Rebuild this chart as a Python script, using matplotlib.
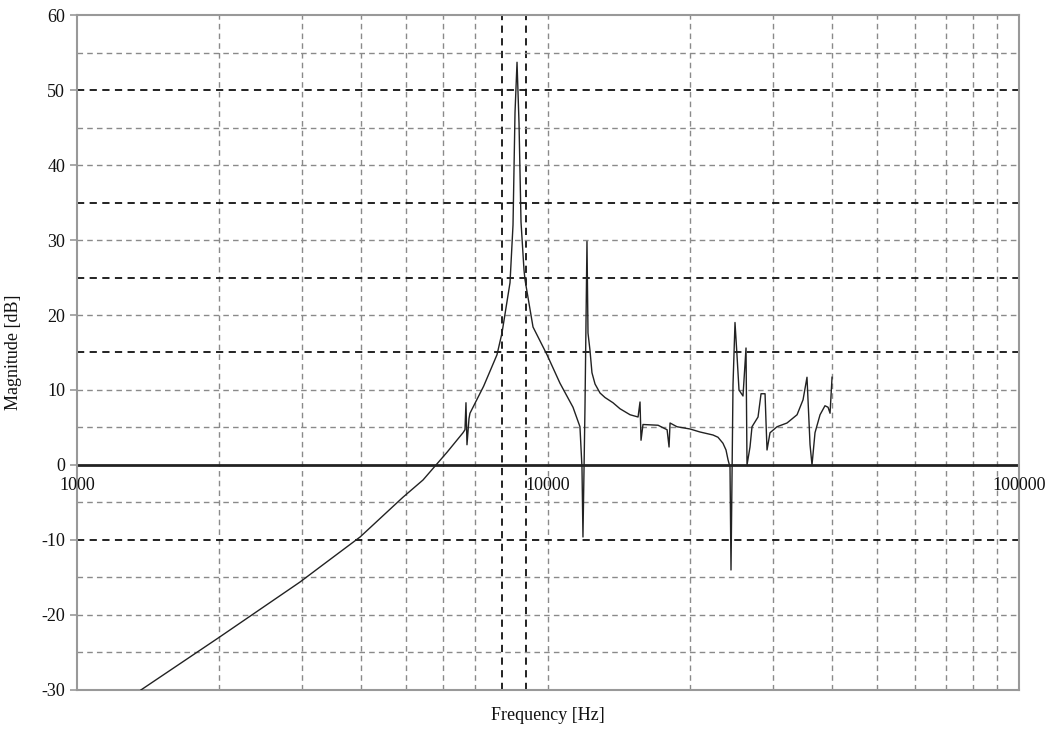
import matplotlib
matplotlib.use('Agg')
import matplotlib.pyplot as plt
import numpy as np

# Frequency response
freq = [1367, 2002, 2976, 3281, 3991, 4921, 5428, 6105, 6600, 6664, 6697, 6730,
        6797, 6829, 7300, 7793, 7986, 8305, 8428, 8511, 8595, 8679, 8764, 8893,
        8937, 9294, 9952, 10604, 11300, 11691, 11807, 11864, 11982, 12099, 12160,
        12278, 12398, 12585, 12896, 13213, 13740, 14218, 14935, 15531, 15681,
        15758, 15910, 17125, 17900, 18072, 18160, 18786, 20023, 21023, 22400,
        22955, 23520, 23874, 24110, 24346, 24464, 24705, 24947, 25193, 25440,
        25940, 26327, 26455, 26845, 27109, 27920, 28333, 28894, 29035, 29174,
        29605, 30637, 32169, 33790, 34793, 35470, 36002, 36349, 36886, 37808,
        38727, 39315, 39701, 40091]
mag = [-30, -23, -15.6, -13.6, -9.6, -4.3, -2.0, 1.7, 4.3, 4.7, 8.3, 2.7,
       6.2, 6.9, 10.5, 14.7, 17.6, 24.3, 32, 47, 53.7, 45.6, 32.4, 26,
       24.7, 18.4, 14.7, 10.9, 7.7, 5.1, -0.3, -9.6, 7.7, 29.8, 17.6,
       15.3, 12.3, 10.8, 9.6, 9.0, 8.3, 7.5, 6.7, 6.4, 8.4,
       3.3, 5.4, 5.3, 4.7, 2.4, 5.6, 5.1, 4.8, 4.4, 4.0,
       3.7, 2.9, 2.0, 0.7, -0.3, -14, 10.7, 19, 14.6, 10,
       9.2, 15.6, 0, 2.4, 5.1, 6.4, 9.5, 9.5, 5.6, 2.0,
       4.3, 5.1, 5.6, 6.7, 8.7, 11.7, 2.7, 0, 4.3, 6.7,
       7.9, 7.7, 6.9, 11.7]

xticks = [1000, 10000, 100000]
xtick_labels = ['1000', '10000', '100000']
yticks = [-30, -20, -10, 0, 10, 20, 30, 40, 50, 60]

font = 'Liberation Serif'

fig = plt.figure(figsize=(10.5, 7.4), dpi=100)
ax = fig.add_axes([0.0733, 0.0676, 0.8972, 0.9121])
ax.set_xscale('log')
ax.set_xlim(1000, 100000)
ax.set_ylim(-30, 60)

# dashed grid, a few lines come out darker in the original
dark_x = [8000, 9000]
dark_y = [50, 35, 25, 15, -10]
for dec in [1000, 10000]:
    for m in range(2, 10):
        f = dec * m
        if f in dark_x:
            ax.axvline(f, color='#111111', lw=1.3, ls=(0, (4, 3)), zorder=1)
        else:
            ax.axvline(f, color='#8a8a8a', lw=1.0, ls=(0, (4, 3)), zorder=1)
ax.axvline(10000, color='#8a8a8a', lw=1.0, ls=(0, (4, 3)), zorder=1)
for y in np.arange(-25, 60, 5):
    if y == 0:
        continue
    if y in dark_y:
        ax.axhline(y, color='#111111', lw=1.3, ls=(0, (4, 3)), zorder=1)
    else:
        ax.axhline(y, color='#8a8a8a', lw=1.0, ls=(0, (4, 3)), zorder=1)

ax.axhline(0, color='#222222', lw=2, zorder=2)
ax.plot(freq, mag, color='#222222', lw=1.0, zorder=3)

for s in ax.spines.values():
    s.set_color('#999999')
    s.set_linewidth(1.5)

ax.set_yticks(yticks)
ax.set_yticklabels([str(v) for v in yticks], fontsize=13, family=font, color='#111111')
ax.tick_params(axis='y', length=5, color='#999999', width=1.2)
ax.set_xticks([])
ax.minorticks_off()
for f, lab in zip(xticks, xtick_labels):
    ax.text(f, -1.6, lab, ha='center', va='top', fontsize=13, family=font, color='#111111')

ax.set_xlabel('Frequency [Hz]', fontsize=13, family=font, color='#111111', labelpad=12)
ax.set_ylabel('Magnitude [dB]', fontsize=13, family=font, color='#111111', labelpad=14)

fig.savefig('out.png', dpi=100)
